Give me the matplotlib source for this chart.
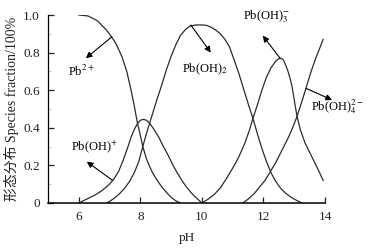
import matplotlib
matplotlib.use('Agg')
import matplotlib.pyplot as plt
from matplotlib.ticker import MultipleLocator

plt.rcParams['font.family'] = ['Liberation Serif', 'Noto Sans CJK SC']
plt.rcParams['mathtext.fontset'] = 'stix'

# 各形态分布 (pH, 分数) — 从原图读取
ph_pb = [6.0, 6.3, 6.6, 6.9, 7.07, 7.2, 7.4, 7.56, 7.7, 7.8, 7.9, 8.0, 8.08, 8.2, 8.3, 8.4, 8.55,
         8.7, 8.86, 9.0, 9.15, 9.3]
pb = [1.0, 0.995, 0.97, 0.92, 0.883, 0.85, 0.78, 0.70, 0.60, 0.52, 0.43, 0.36, 0.30, 0.235, 0.195, 0.16, 0.12,
      0.085, 0.055, 0.03, 0.012, 0.0]

ph_pboh = [6.0, 6.25, 6.5, 6.75, 7.0, 7.15, 7.3, 7.45, 7.6, 7.7, 7.8, 7.9, 8.0, 8.1, 8.2, 8.3, 8.45,
           8.6, 8.75, 8.9, 9.05, 9.2, 9.35, 9.5, 9.65, 9.8, 9.9, 10.0]
pboh = [0.0, 0.02, 0.04, 0.065, 0.10, 0.13, 0.17, 0.23, 0.30, 0.35, 0.39, 0.42, 0.44, 0.445, 0.44, 0.425, 0.39,
        0.35, 0.30, 0.255, 0.205, 0.16, 0.12, 0.085, 0.055, 0.03, 0.015, 0.0]

ph_pboh2 = [6.9, 7.0, 7.15, 7.33, 7.5, 7.65, 7.8, 7.95, 8.08, 8.2, 8.35, 8.54, 8.7, 8.85, 9.0, 9.15,
            9.3, 9.45, 9.6, 9.8, 10.0, 10.15, 10.3, 10.45, 10.6, 10.75, 10.9, 11.05, 11.2, 11.35, 11.5,
            11.66, 11.8, 11.95, 12.1, 12.25, 12.4, 12.55, 12.7, 12.9, 13.1, 13.25]
pboh2 = [0.0, 0.008, 0.025, 0.05, 0.08, 0.115, 0.16, 0.22, 0.30, 0.37, 0.45, 0.55, 0.63, 0.71, 0.78, 0.84,
         0.89, 0.92, 0.94, 0.947, 0.947, 0.945, 0.935, 0.92, 0.90, 0.87, 0.83, 0.76, 0.69, 0.61, 0.53,
         0.45, 0.37, 0.29, 0.22, 0.16, 0.115, 0.08, 0.055, 0.03, 0.012, 0.0]

ph_pboh3 = [10.0, 10.2, 10.4, 10.6, 10.8, 11.0, 11.2, 11.4, 11.55, 11.66, 11.8, 11.95, 12.1, 12.25,
            12.4, 12.5, 12.58, 12.65, 12.72, 12.8, 12.87, 12.93, 13.0, 13.05, 13.1, 13.2, 13.35, 13.5,
            13.65, 13.8, 13.94]
pboh3 = [0.0, 0.02, 0.045, 0.08, 0.13, 0.185, 0.245, 0.32, 0.39, 0.45, 0.52, 0.60, 0.67, 0.72,
         0.755, 0.768, 0.77, 0.76, 0.735, 0.70, 0.66, 0.62, 0.55, 0.50, 0.455, 0.39, 0.32, 0.27,
         0.22, 0.17, 0.12]

ph_pboh4 = [11.33, 11.5, 11.7, 11.9, 12.05, 12.2, 12.4, 12.6, 12.8, 12.95, 13.09, 13.25, 13.4, 13.55,
            13.7, 13.82, 13.94]
pboh4 = [0.0, 0.02, 0.05, 0.09, 0.12, 0.16, 0.215, 0.28, 0.345, 0.40, 0.46, 0.54, 0.62, 0.70,
         0.77, 0.82, 0.87]

fig = plt.figure(figsize=(3.68, 2.48), dpi=100)
ax = fig.add_axes([0.1304, 0.1815, 0.7527, 0.758])

lc = '#2b2b2b'
for x, y in [(ph_pb, pb), (ph_pboh, pboh), (ph_pboh2, pboh2), (ph_pboh3, pboh3), (ph_pboh4, pboh4)]:
    ax.plot(x, y, color=lc, lw=0.9, solid_joinstyle='round')

ax.set_xlim(5, 14)
ax.set_ylim(0, 1.0)
ax.set_xticks([6, 8, 10, 12, 14])
ax.set_yticks([0, 0.2, 0.4, 0.6, 0.8, 1.0])
ax.set_yticklabels(['0', '0.2', '0.4', '0.6', '0.8', '1.0'])
ax.yaxis.set_minor_locator(MultipleLocator(0.1))
ax.spines['top'].set_visible(False)
ax.spines['right'].set_visible(False)
ax.spines['left'].set_linewidth(0.9)
ax.spines['bottom'].set_linewidth(1.1)
ax.tick_params(which='major', direction='in', length=4, width=0.9, labelsize=9.5, pad=6, colors='#222222')
ax.tick_params(which='minor', direction='in', length=2, width=0.4, colors='#999999')
ax.set_xlabel('pH', fontsize=9.5, labelpad=6, color='#222222')
ax.set_ylabel('形态分布 Species fraction/100%', fontsize=10, labelpad=3, color='#222222')

# 标注与箭头
arrow = dict(arrowstyle='-|>', color='k', lw=0.8, mutation_scale=9, shrinkA=0, shrinkB=0)
fs = 9
ax.annotate('', xy=(6.23, 0.77), xytext=(7.07, 0.883), arrowprops=arrow)
ax.text(6.07, 0.70, r'Pb$^{2+}$', fontsize=fs, ha='center', va='center')
ax.annotate('', xy=(10.29, 0.80), xytext=(9.64, 0.947), arrowprops=arrow)
ax.text(10.1, 0.71, r'Pb(OH)$_{2}$', fontsize=fs, ha='center', va='center')
ax.annotate('', xy=(11.98, 0.89), xytext=(12.54, 0.77), arrowprops=arrow)
ax.text(12.11, 0.99, r'Pb(OH)$_{3}^{-}$', fontsize=fs, ha='center', va='center')
ax.annotate('', xy=(14.23, 0.548), xytext=(13.38, 0.61), arrowprops=arrow, annotation_clip=False)
ax.text(14.39, 0.51, r'Pb(OH)$_{4}^{2-}$', fontsize=fs, ha='center', va='center', clip_on=False)
ax.annotate('', xy=(6.26, 0.22), xytext=(7.1, 0.12), arrowprops=arrow)
ax.text(6.52, 0.30, r'Pb(OH)$^{+}$', fontsize=fs, ha='center', va='center')

fig.savefig('out.png', dpi=100)
